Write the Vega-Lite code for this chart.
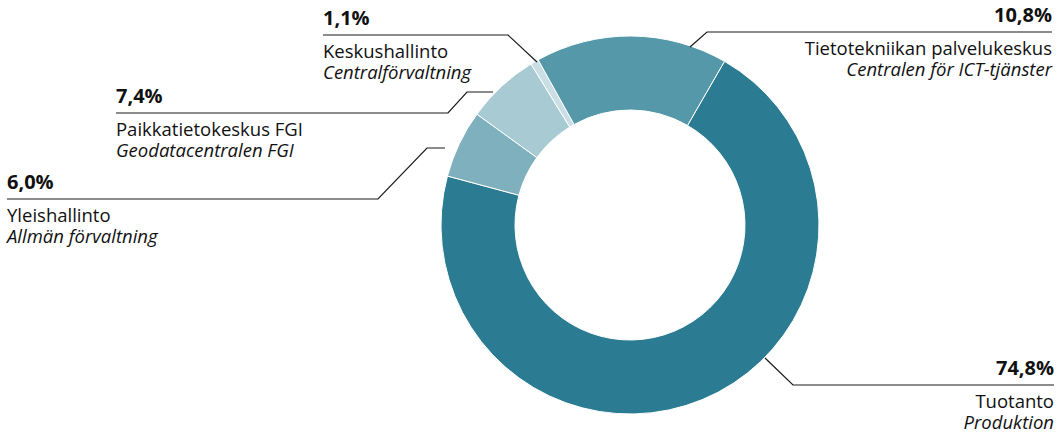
{
  "$schema": "https://vega.github.io/schema/vega-lite/v6.json",
  "width": 1058,
  "height": 435,
  "padding": 0,
  "autosize": {"type": "fit", "contains": "padding"},
  "background": "#ffffff",
  "config": {"view": {"stroke": null}, "font": "Open Sans"},
  "datasets": {
    "slices": [
      {"name": "Tuotanto", "rank": 1, "share": 70.8},
      {"name": "Yleishallinto", "rank": 2, "share": 5.8},
      {"name": "Paikkatietokeskus FGI", "rank": 3, "share": 6.25},
      {"name": "Keskushallinto", "rank": 4, "share": 0.7},
      {"name": "Tietotekniikan palvelukeskus", "rank": 5, "share": 16.4}
    ],
    "labels": [
      {"name": "Keskushallinto", "side": "left", "pct": "1,1%", "fi": "Keskushallinto", "sv": "Centralförvaltning", "lx": -1.6243, "ly": 1.0053},
      {"name": "Tietotekniikan palvelukeskus", "side": "right", "pct": "10,8%", "fi": "Tietotekniikan palvelukeskus", "sv": "Centralen för ICT-tjänster", "lx": 2.2328, "ly": 1.0212},
      {"name": "Paikkatietokeskus FGI", "side": "left", "pct": "7,4%", "fi": "Paikkatietokeskus FGI", "sv": "Geodatacentralen FGI", "lx": -2.7196, "ly": 0.5926},
      {"name": "Yleishallinto", "side": "left", "pct": "6,0%", "fi": "Yleishallinto", "sv": "Allmän förvaltning", "lx": -3.2963, "ly": 0.1376},
      {"name": "Tuotanto", "side": "right", "pct": "74,8%", "fi": "Tuotanto", "sv": "Produktion", "lx": 2.2434, "ly": -0.8466}
    ],
    "leaders": [
      {"name": "Keskushallinto", "seq": 1, "x": -1.6243, "y": 1.0053},
      {"name": "Keskushallinto", "seq": 2, "x": -0.6455, "y": 1.0053},
      {"name": "Keskushallinto", "seq": 3, "x": -0.4921, "y": 0.8624},
      {"name": "Tietotekniikan palvelukeskus", "seq": 1, "x": 2.2328, "y": 1.0212},
      {"name": "Tietotekniikan palvelukeskus", "seq": 2, "x": 0.4074, "y": 1.0212},
      {"name": "Tietotekniikan palvelukeskus", "seq": 3, "x": 0.3175, "y": 0.9418},
      {"name": "Paikkatietokeskus FGI", "seq": 1, "x": -2.7196, "y": 0.5926},
      {"name": "Paikkatietokeskus FGI", "seq": 2, "x": -0.963, "y": 0.5926},
      {"name": "Paikkatietokeskus FGI", "seq": 3, "x": -0.8624, "y": 0.7037},
      {"name": "Paikkatietokeskus FGI", "seq": 4, "x": -0.7249, "y": 0.7037},
      {"name": "Yleishallinto", "seq": 1, "x": -3.2963, "y": 0.1376},
      {"name": "Yleishallinto", "seq": 2, "x": -1.3333, "y": 0.1376},
      {"name": "Yleishallinto", "seq": 3, "x": -1.0741, "y": 0.4074},
      {"name": "Yleishallinto", "seq": 4, "x": -0.9788, "y": 0.4074},
      {"name": "Tuotanto", "seq": 1, "x": 0.7143, "y": -0.7037},
      {"name": "Tuotanto", "seq": 2, "x": 0.8624, "y": -0.8466},
      {"name": "Tuotanto", "seq": 3, "x": 2.2434, "y": -0.8466}
    ]
  },
  "layer": [
    {
      "data": {"name": "slices"},
      "mark": {"type": "arc", "outerRadius": 189, "innerRadius": 115, "stroke": "#ffffff", "strokeWidth": 1},
      "encoding": {
        "x": {"datum": 0, "type": "quantitative", "scale": {"domain": [-3.3333, 2.2646]}, "axis": null},
        "y": {"datum": 0, "type": "quantitative", "scale": {"domain": [-1.1111, 1.1905]}, "axis": null},
        "theta": {"field": "share", "type": "quantitative", "stack": true, "scale": {"range": [0.5236, 6.8068]}},
        "order": {"field": "rank", "type": "quantitative"},
        "color": {
          "field": "name", "type": "nominal", "legend": null,
          "scale": {
            "domain": ["Tuotanto", "Yleishallinto", "Paikkatietokeskus FGI", "Keskushallinto", "Tietotekniikan palvelukeskus"],
            "range": ["#2b7c93", "#7fb0bd", "#a8cad3", "#c9dfe5", "#5598a9"]
          }
        }
      }
    },
    {
      "data": {"name": "leaders"},
      "mark": {"type": "line", "stroke": "#1a1a1a", "strokeWidth": 1.2, "interpolate": "linear"},
      "encoding": {
        "x": {"field": "x", "type": "quantitative", "scale": {"domain": [-3.3333, 2.2646]}, "axis": null},
        "y": {"field": "y", "type": "quantitative", "scale": {"domain": [-1.1111, 1.1905]}, "axis": null},
        "detail": {"field": "name", "type": "nominal"},
        "order": {"field": "seq", "type": "quantitative"}
      }
    },
    {
      "data": {"name": "labels"},
      "transform": [{"filter": "datum.side === 'left'"}],
      "layer": [
        {"mark": {"type": "text", "align": "left", "baseline": "alphabetic", "dy": -10, "fontSize": 20, "fontWeight": "bold", "color": "#111111"},
         "encoding": {"text": {"field": "pct"}}},
        {"mark": {"type": "text", "align": "left", "baseline": "alphabetic", "dy": 23, "fontSize": 18.5, "color": "#111111"},
         "encoding": {"text": {"field": "fi"}}},
        {"mark": {"type": "text", "align": "left", "baseline": "alphabetic", "dy": 44, "fontSize": 18.5, "fontStyle": "italic", "color": "#111111"},
         "encoding": {"text": {"field": "sv"}}}
      ],
      "encoding": {
        "x": {"field": "lx", "type": "quantitative", "scale": {"domain": [-3.3333, 2.2646]}, "axis": null},
        "y": {"field": "ly", "type": "quantitative", "scale": {"domain": [-1.1111, 1.1905]}, "axis": null}
      }
    },
    {
      "data": {"name": "labels"},
      "transform": [{"filter": "datum.side === 'right'"}],
      "layer": [
        {"mark": {"type": "text", "align": "right", "baseline": "alphabetic", "dy": -10, "fontSize": 20, "fontWeight": "bold", "color": "#111111"},
         "encoding": {"text": {"field": "pct"}}},
        {"mark": {"type": "text", "align": "right", "baseline": "alphabetic", "dy": 23, "fontSize": 18.5, "color": "#111111"},
         "encoding": {"text": {"field": "fi"}}},
        {"mark": {"type": "text", "align": "right", "baseline": "alphabetic", "dy": 44, "fontSize": 18.5, "fontStyle": "italic", "color": "#111111"},
         "encoding": {"text": {"field": "sv"}}}
      ],
      "encoding": {
        "x": {"field": "lx", "type": "quantitative", "scale": {"domain": [-3.3333, 2.2646]}, "axis": null},
        "y": {"field": "ly", "type": "quantitative", "scale": {"domain": [-1.1111, 1.1905]}, "axis": null}
      }
    }
  ]
}
